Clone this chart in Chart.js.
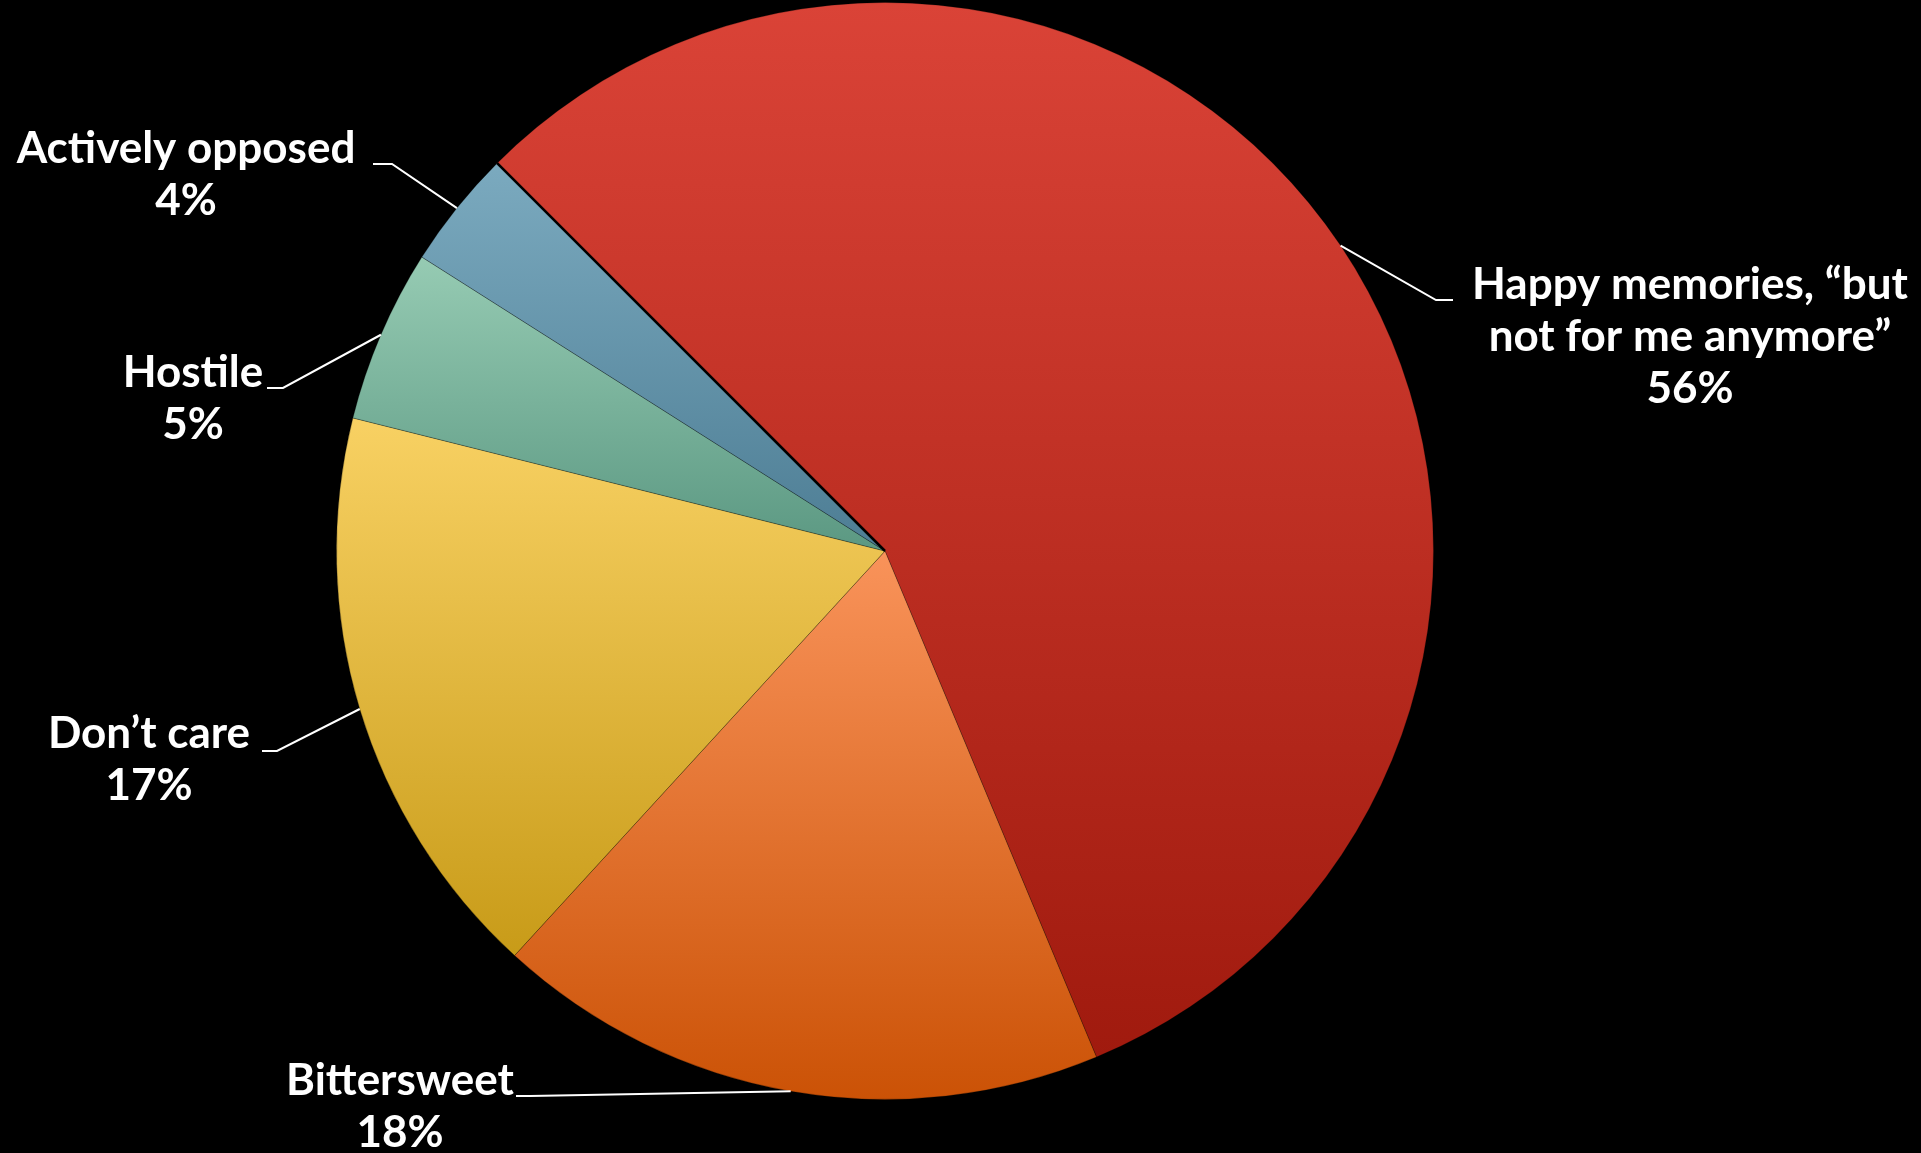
<!DOCTYPE html>
<html>
<head>
<meta charset="utf-8">
<script src="https://cdn.jsdelivr.net/npm/chart.js@4/dist/chart.umd.min.js"></script>
<style>
  html, body { margin: 0; padding: 0; background: #000; overflow: hidden; }
  #wrap { width: 1921px; height: 1153px; position: relative; }
</style>
</head>
<body>
<div id="wrap"><canvas id="c" width="1921" height="1153"></canvas></div>
<script>
// ---- data ----
const categories = [
  ['Happy memories, \u201Cbut', 'not for me anymore\u201D'],
  ['Bittersweet'],
  ['Don\u2019t care'],
  ['Hostile'],
  ['Actively opposed']
];
const values = [56.2, 18.1, 17.1, 5.1, 3.5];

// ---- styles ----
const topColors    = ['#DA4337', '#F9935A', '#F8D163', '#96CBB3', '#7BAABF'];
const bottomColors = ['#A01A0E', '#CB5206', '#C89B18', '#5B9882', '#4D7D94'];
const FONT = 'bold 44px Lato';
const LINE_H = 52;
// label placement: text centre x, first baseline y, elbow point, end of leader near text
const labelLayout = [
  { cx: 1690, y: 299, elbow: [1436, 300], end: 1453 },
  { cx: 400, y: 1095, elbow: [530, 1096], end: 516 },
  { cx: 149, y: 748, elbow: [277, 751], end: 262 },
  { cx: 193, y: 387, elbow: [283, 388], end: 267 },
  { cx: 186, y: 163, elbow: [392, 164], end: 373 }
];

function arcBox(arc) {
  const p = arc.getProps(['x', 'y', 'startAngle', 'endAngle', 'outerRadius'], true);
  let minY = p.y, maxY = p.y;
  const angs = [p.startAngle, p.endAngle];
  for (let k = -6; k <= 6; k++) {
    const a = -Math.PI / 2 + k * Math.PI;
    if (a > p.startAngle && a < p.endAngle) angs.push(a);
  }
  angs.forEach(a => {
    const yy = p.y + p.outerRadius * Math.sin(a);
    minY = Math.min(minY, yy); maxY = Math.max(maxY, yy);
  });
  return { p, minY, maxY };
}

const gradientPlugin = {
  id: 'sliceGradients',
  beforeDatasetsDraw(chart) {
    const ctx = chart.ctx;
    const meta = chart.getDatasetMeta(0);
    meta.data.forEach((arc, i) => {
      const { minY, maxY } = arcBox(arc);
      const g = ctx.createLinearGradient(0, minY, 0, maxY);
      g.addColorStop(0, topColors[i]);
      g.addColorStop(1, bottomColors[i]);
      arc.options.backgroundColor = g;
    });
  },
  afterDatasetsDraw(chart) {
    const ctx = chart.ctx;
    const meta = chart.getDatasetMeta(0);
    // dark separator at start of first slice
    const first = meta.data[0].getProps(['x', 'y', 'startAngle', 'outerRadius'], true);
    ctx.save();
    ctx.strokeStyle = '#000';
    ctx.lineWidth = 2.5;
    ctx.beginPath();
    ctx.moveTo(first.x, first.y);
    ctx.lineTo(first.x + first.outerRadius * Math.cos(first.startAngle),
               first.y + first.outerRadius * Math.sin(first.startAngle));
    ctx.stroke();
    ctx.restore();

    // labels and leader lines
    ctx.save();
    ctx.font = FONT;
    ctx.fillStyle = '#fff';
    ctx.strokeStyle = '#fff';
    ctx.lineWidth = 2;
    ctx.textBaseline = 'alphabetic';
    ctx.textAlign = 'center';
    meta.data.forEach((arc, i) => {
      const p = arc.getProps(['x', 'y', 'startAngle', 'endAngle', 'outerRadius'], true);
      const mid = (p.startAngle + p.endAngle) / 2;
      const ex = p.x + p.outerRadius * Math.cos(mid);
      const ey = p.y + p.outerRadius * Math.sin(mid);
      const L = labelLayout[i];
      ctx.beginPath();
      ctx.moveTo(ex, ey);
      ctx.lineTo(L.elbow[0], L.elbow[1]);
      ctx.lineTo(L.end, L.elbow[1]);
      ctx.stroke();
      const lines = categories[i].concat([Math.round(values[i]) + '%']);
      lines.forEach((t, j) => {
        ctx.fillText(t, L.cx, L.y + j * LINE_H);
      });
    });
    ctx.restore();
  }
};

function draw() {
  new Chart(document.getElementById('c'), {
    type: 'pie',
    data: {
      labels: categories,
      datasets: [{
        data: values,
        backgroundColor: topColors,
        borderColor: 'rgba(0,0,0,0.25)',
        borderWidth: 1
      }]
    },
    options: {
      responsive: false,
      animation: false,
      devicePixelRatio: 1,
      rotation: 315,
      layout: { padding: { left: 336, right: 487, top: 1, bottom: 52 } },
      plugins: {
        legend: { display: false },
        tooltip: { enabled: false }
      }
    },
    plugins: [gradientPlugin]
  });
}
if (document.fonts && document.fonts.load) {
  document.fonts.load(FONT).then(draw, draw);
} else {
  draw();
}
</script>
</body>
</html>
